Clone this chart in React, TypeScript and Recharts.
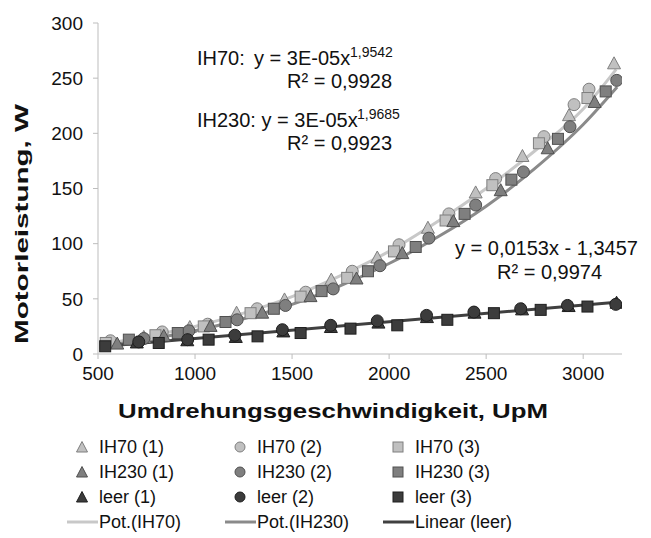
import React from "react";
import { ComposedChart, Scatter, Line, XAxis, YAxis } from "recharts";

// measured points: rpm (x) and motor power in W (y)
const ih70_1_x = [736, 973, 1214, 1461, 1702, 1939, 2200, 2446, 2687, 2927, 3159];
const ih70_1_y = [15, 24, 37, 49, 67, 87, 114, 146, 179, 216, 263];
const ih70_2_x = [564, 831, 1065, 1320, 1570, 1810, 2051, 2308, 2549, 2798, 2953, 3030];
const ih70_2_y = [12, 20, 27, 41, 56, 75, 99, 127, 159, 197, 226, 240];
const ih70_3_x = [540, 796, 1045, 1286, 1544, 1784, 2025, 2291, 2532, 2772, 3022];
const ih70_3_y = [10, 17, 25, 37, 52, 69, 93, 121, 153, 191, 232];

const ih230_1_x = [599, 839, 1080, 1346, 1595, 1832, 2068, 2331, 2575, 2817, 3059];
const ih230_1_y = [9, 16, 25, 37, 52, 68, 91, 120, 148, 186, 228];
const ih230_2_x = [736, 968, 1217, 1466, 1712, 1953, 2205, 2446, 2692, 2932, 3173];
const ih230_2_y = [14, 21, 31, 44, 59, 80, 105, 135, 165, 206, 248];
const ih230_3_x = [659, 911, 1157, 1406, 1652, 1891, 2137, 2389, 2630, 2870, 3116];
const ih230_3_y = [13, 19, 29, 41, 57, 75, 97, 127, 158, 195, 238];

const leer1_x = [700, 960, 1210, 1455, 1700, 1945, 2195, 2440, 2685, 2925, 3172];
const leer1_y = [10, 12, 15, 20, 24, 28, 33, 37, 40, 43, 46];
const leer2_x = [710, 962, 1205, 1450, 1699, 1939, 2193, 2437, 2678, 2919, 3168];
const leer2_y = [11, 13, 17, 22, 26, 30, 35, 38, 41, 44, 45];
const leer3_x = [537, 813, 1070, 1322, 1544, 1801, 2042, 2300, 2540, 2781, 3022];
const leer3_y = [7, 10, 13, 16, 19, 23, 26, 31, 37, 40, 43];

// trendlines
const potIH70_x = [540, 750, 1000, 1250, 1500, 1750, 2000, 2250, 2500, 2750, 3000, 3170];
const potIH70_y = [9, 16, 25, 37, 52, 71, 93, 120, 150, 184, 222, 258];
const potIH230_x = [600, 750, 1000, 1250, 1500, 1750, 2000, 2250, 2500, 2750, 3000, 3175];
const potIH230_y = [9, 13, 21, 32, 45, 62, 82, 106, 134, 168, 208, 242];
const linLeer_x = [537, 3172];
const linLeer_y = [7, 47];

const xTicks = [500, 1000, 1500, 2000, 2500, 3000];
const yTicks = [0, 50, 100, 150, 200, 250, 300];

const pts = (xs: number[], ys: number[]) => xs.map((x, i) => ({ x, y: ys[i] }));

const LIGHT = { fill: "#c0c0c0", stroke: "#7f7f7f" };
const MID = { fill: "#7f7f7f", stroke: "#505050" };
const DARK = { fill: "#3c3c3c", stroke: "#1e1e1e" };

const tri = (c: any) => (p: any) => (
  <polygon
    points={`${p.cx},${p.cy - 7} ${p.cx + 6.5},${p.cy + 5} ${p.cx - 6.5},${p.cy + 5}`}
    fill={c.fill}
    stroke={c.stroke}
    strokeWidth={1}
  />
);
const circ = (c: any) => (p: any) => (
  <circle cx={p.cx} cy={p.cy} r={6} fill={c.fill} stroke={c.stroke} strokeWidth={1} />
);
const sq = (c: any) => (p: any) => (
  <rect x={p.cx - 5.5} y={p.cy - 5.5} width={11} height={11} fill={c.fill} stroke={c.stroke} strokeWidth={1} />
);

const font = "'Liberation Sans', Arial, sans-serif";

function LegendMark({ kind, c }: { kind: string; c: any }) {
  if (kind === "line")
    return (
      <svg width={32} height={12}>
        <line x1={0} y1={6} x2={31} y2={6} stroke={c} strokeWidth={3} />
      </svg>
    );
  return (
    <svg width={14} height={14} style={{ marginRight: 10 }}>
      {kind === "tri" && <polygon points="7,1.5 12.5,12 1.5,12" fill={c.fill} stroke={c.stroke} />}
      {kind === "circ" && <circle cx={7} cy={7} r={5} fill={c.fill} stroke={c.stroke} />}
      {kind === "sq" && <rect x={2} y={2} width={10} height={10} fill={c.fill} stroke={c.stroke} />}
    </svg>
  );
}

const legendRows = [
  [["tri", LIGHT, "IH70 (1)"], ["circ", LIGHT, "IH70 (2)"], ["sq", LIGHT, "IH70 (3)"]],
  [["tri", MID, "IH230 (1)"], ["circ", MID, "IH230 (2)"], ["sq", MID, "IH230 (3)"]],
  [["tri", DARK, "leer (1)"], ["circ", DARK, "leer (2)"], ["sq", DARK, "leer (3)"]],
  [["line", "#c8c8c8", "Pot.(IH70)"], ["line", "#8a8a8a", "Pot.(IH230)"], ["line", "#404040", "Linear (leer)"]],
];

export default function App() {
  const txt: React.CSSProperties = { position: "absolute", fontSize: 18, color: "#111", whiteSpace: "nowrap" };
  return (
    <div style={{ position: "absolute", left: 0, top: 0, width: 651, height: 538, background: "#fff", fontFamily: font }}>
      <ComposedChart width={651} height={400} margin={{ top: 23, right: 29, bottom: 16, left: 0 }}>
        <XAxis
          dataKey="x"
          type="number"
          domain={[500, 3200]}
          ticks={xTicks}
          allowDataOverflow
          stroke="#bdbdbd"
          tickSize={5}
          tickMargin={8}
          height={30}
          tick={{ fill: "#111", fontSize: 19, fontFamily: font }}
        />
        <YAxis
          dataKey="y"
          type="number"
          domain={[0, 300]}
          ticks={yTicks}
          allowDataOverflow
          stroke="#bdbdbd"
          tickSize={5}
          tickMargin={10}
          width={98}
          tick={{ fill: "#111", fontSize: 19, fontFamily: font }}
        />
        <Line data={pts(potIH70_x, potIH70_y)} dataKey="y" type="monotone" stroke="#c8c8c8" strokeWidth={3} dot={false} isAnimationActive={false} />
        <Line data={pts(potIH230_x, potIH230_y)} dataKey="y" type="monotone" stroke="#8a8a8a" strokeWidth={3} dot={false} isAnimationActive={false} />
        <Line data={pts(linLeer_x, linLeer_y)} dataKey="y" type="linear" stroke="#404040" strokeWidth={3} dot={false} isAnimationActive={false} />
        <Scatter data={pts(ih70_1_x, ih70_1_y)} shape={tri(LIGHT)} isAnimationActive={false} />
        <Scatter data={pts(ih70_2_x, ih70_2_y)} shape={circ(LIGHT)} isAnimationActive={false} />
        <Scatter data={pts(ih70_3_x, ih70_3_y)} shape={sq(LIGHT)} isAnimationActive={false} />
        <Scatter data={pts(ih230_1_x, ih230_1_y)} shape={tri(MID)} isAnimationActive={false} />
        <Scatter data={pts(ih230_2_x, ih230_2_y)} shape={circ(MID)} isAnimationActive={false} />
        <Scatter data={pts(ih230_3_x, ih230_3_y)} shape={sq(MID)} isAnimationActive={false} />
        <Scatter data={pts(leer1_x, leer1_y)} shape={tri(DARK)} isAnimationActive={false} />
        <Scatter data={pts(leer2_x, leer2_y)} shape={circ(DARK)} isAnimationActive={false} />
        <Scatter data={pts(leer3_x, leer3_y)} shape={sq(DARK)} isAnimationActive={false} />
      </ComposedChart>

      {/* axis titles and fit equations */}
      <svg width={651} height={440} style={{ position: "absolute", left: 0, top: 0, pointerEvents: "none" }} fontFamily={font} fill="#111">
        <text x={333} y={418} fontSize={20} fontWeight="bold" textAnchor="middle" textLength={430} lengthAdjust="spacingAndGlyphs">
          Umdrehungsgeschwindigkeit, UpM
        </text>
        <text transform="translate(28,224) rotate(-90)" fontSize={19} fontWeight="bold" textAnchor="middle" textLength={240} lengthAdjust="spacingAndGlyphs">
          Motorleistung, W
        </text>

        <text x={197} y={65} fontSize={20}>IH70:</text>
        <text x={254} y={65} fontSize={20}>y = 3E-05x</text>
        <text x={350} y={57} fontSize={14}>1,9542</text>
        <text x={287} y={88} fontSize={20}>R² = 0,9928</text>

        <text x={197} y={127} fontSize={20}>IH230: y = 3E-05x</text>
        <text x={357} y={119} fontSize={14}>1,9685</text>
        <text x={287} y={150} fontSize={20}>R² = 0,9923</text>

        <text x={455} y={255} fontSize={20}>y = 0,0153x - 1,3457</text>
        <text x={497} y={279} fontSize={20}>R² = 0,9974</text>
      </svg>

      {/* legend */}
      {legendRows.map((row, r) =>
        row.map((it: any, c) => {
          const isLine = it[0] === "line";
          return (
            <div
              key={`${r}-${c}`}
              style={{
                ...txt,
                left: (isLine ? 67 : 75) + c * 158,
                top: 436 + r * 25,
                display: "flex",
                alignItems: "center",
                height: 22,
              }}
            >
              <LegendMark kind={it[0]} c={it[1]} />
              <span>{it[2]}</span>
            </div>
          );
        })
      )}
    </div>
  );
}
